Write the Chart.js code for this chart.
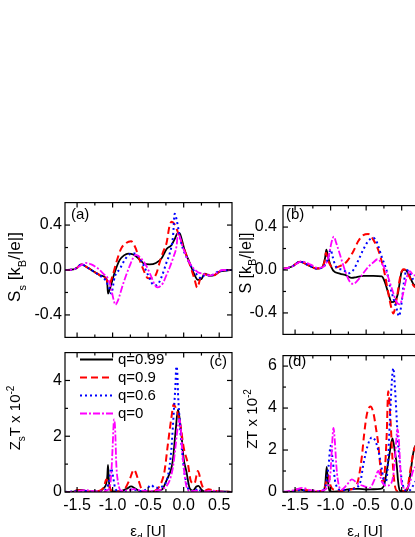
<!DOCTYPE html>
<html><head><meta charset="utf-8">
<script src="https://cdn.jsdelivr.net/npm/chart.js@4.4.0/dist/chart.umd.min.js"></script>
<style>
html,body{margin:0;padding:0;background:#fff;overflow:hidden;width:415px;height:537px;}
canvas{position:absolute;}
</style></head><body>
<canvas id="ca" width="240" height="160" style="left:0;top:190px"></canvas>
<canvas id="cb" width="224" height="160" style="left:236px;top:190px"></canvas>
<canvas id="cc" width="240" height="197" style="left:0;top:340px"></canvas>
<canvas id="cd" width="224" height="197" style="left:236px;top:340px"></canvas>
<script>
// ---------- axes / labels ----------
const X_MIN = -1.67, X_MAX = 0.68;
const xMajor = [-1.5, -1.0, -0.5, 0.0, 0.5];
const xMinor = [-1.25, -0.75, -0.25, 0.25];
const xTickLabels = ['-1.5', '-1.0', '-0.5', '0.0', '0.5'];
const sMajor = [-0.4, 0.0, 0.4];
const sMinor = [-0.2, 0.2];
const sTickLabels = ['-0.4', '0.0', '0.4'];
const zcMajor = [0, 2, 4];
const zcMinor = [1, 3];
const zdMajor = [0, 2, 4, 6];
const zdMinor = [1, 3, 5];
const seriesNames = ['q=0.99', 'q=0.9', 'q=0.6', 'q=0'];

// ---------- panel (a): S_s ----------
const a_q099_x = [-1.67,-1.55,-1.5,-1.44,-1.35,-1.25,-1.18,-1.09,-1.075,-1.065,-1.04,-0.97,-0.9,-0.84,-0.78,-0.71,-0.64,-0.57,-0.48,-0.39,-0.31,-0.24,-0.17,-0.13,-0.08,-0.056,-0.02,0.014,0.085,0.155,0.2,0.25,0.296,0.366,0.437,0.507,0.6,0.68];
const a_q099_y = [0,0.005,0.02,0.05,0.02,-0.02,-0.047,-0.075,-0.12,-0.21,-0.17,-0.02,0.09,0.13,0.146,0.138,0.105,0.063,0.05,0.063,0.105,0.187,0.223,0.27,0.33,0.326,0.256,0.174,0.063,-0.047,-0.088,-0.08,-0.033,-0.052,-0.044,-0.014,-0.005,0];
const a_q09_x = [-1.67,-1.55,-1.5,-1.44,-1.35,-1.25,-1.18,-1.09,-1.05,-1.0,-0.95,-0.88,-0.81,-0.74,-0.68,-0.62,-0.57,-0.5,-0.43,-0.385,-0.34,-0.29,-0.24,-0.2,-0.17,-0.13,-0.1,-0.033,0.038,0.108,0.155,0.19,0.25,0.32,0.41,0.507,0.6,0.68];
const a_q09_y = [0,0.005,0.02,0.05,0.02,-0.02,-0.045,-0.08,-0.13,-0.05,0.063,0.19,0.24,0.256,0.2,0.09,0.008,-0.074,-0.074,-0.033,0.063,0.16,0.242,0.39,0.43,0.41,0.366,0.256,0.132,0.008,-0.088,-0.157,-0.047,-0.04,-0.05,-0.014,0,0];
const a_q06_x = [-1.67,-1.55,-1.5,-1.44,-1.35,-1.25,-1.18,-1.1,-1.05,-1.02,-0.97,-0.9,-0.83,-0.76,-0.69,-0.62,-0.55,-0.48,-0.43,-0.38,-0.31,-0.244,-0.197,-0.15,-0.127,-0.1,-0.07,-0.03,0.06,0.13,0.2,0.25,0.3,0.37,0.5,0.68];
const a_q06_y = [0,0.005,0.02,0.05,0.02,-0.02,-0.05,-0.09,-0.16,-0.21,-0.06,0.008,0.09,0.14,0.146,0.105,0.022,-0.074,-0.13,-0.135,-0.06,0.063,0.146,0.3,0.5,0.45,0.35,0.229,0.09,0.008,-0.052,-0.075,-0.04,-0.05,-0.01,0];
const a_q0_x = [-1.67,-1.55,-1.45,-1.38,-1.3,-1.2,-1.12,-1.07,-1.03,-0.98,-0.96,-0.93,-0.855,-0.81,-0.76,-0.714,-0.67,-0.6,-0.525,-0.455,-0.41,-0.37,-0.29,-0.244,-0.197,-0.15,-0.1,-0.08,-0.01,0.06,0.13,0.2,0.27,0.37,0.45,0.55,0.68];
const a_q0_y = [0,0.005,0.04,0.063,0.05,0.01,-0.04,-0.07,-0.14,-0.28,-0.31,-0.28,-0.13,-0.047,0.036,0.105,0.135,0.105,0.036,-0.06,-0.13,-0.155,-0.115,-0.047,0.022,0.105,0.215,0.325,0.2,0.09,0.022,-0.02,-0.033,-0.05,-0.03,0,0];

// ---------- panel (b): S ----------
const b_q099_x = [-1.67,-1.55,-1.43,-1.3,-1.2,-1.127,-1.08,-1.06,-1.035,-1.01,-0.963,-0.87,-0.775,-0.704,-0.634,-0.54,-0.4,-0.28,-0.235,-0.19,-0.141,-0.094,-0.05,-0.024,0.0,0.046,0.093,0.164,0.2,0.3,0.68];
const b_q099_y = [0.01,0.03,0.077,0.04,0.014,0.02,0.105,0.19,0.12,0.063,-0.006,-0.033,-0.052,-0.074,-0.066,-0.055,-0.055,-0.06,-0.115,-0.212,-0.3,-0.29,-0.21,-0.1,-0.014,0.003,-0.033,-0.13,-0.15,-0.05,0];
const b_q09_x = [-1.67,-1.55,-1.43,-1.3,-1.2,-1.127,-1.085,-1.065,-1.04,-1.0,-0.963,-0.87,-0.775,-0.68,-0.61,-0.54,-0.47,-0.4,-0.33,-0.28,-0.235,-0.19,-0.141,-0.118,-0.07,-0.024,0.023,0.07,0.117,0.164,0.2,0.3,0.68];
const b_q09_y = [0.01,0.03,0.077,0.04,0.014,0.02,0.08,0.16,0.1,0.04,0.02,0.036,0.077,0.174,0.27,0.325,0.335,0.283,0.187,0.077,-0.047,-0.21,-0.364,-0.405,-0.267,-0.074,0.008,-0.01,-0.074,-0.143,-0.16,-0.05,0];
const b_q06_x = [-1.67,-1.55,-1.43,-1.3,-1.2,-1.1,-1.04,-1.0,-0.97,-0.93,-0.82,-0.75,-0.68,-0.61,-0.54,-0.47,-0.4,-0.35,-0.28,-0.21,-0.165,-0.118,-0.07,-0.038,0.0,0.03,0.07,0.117,0.164,0.2,0.3,0.68];
const b_q06_y = [0.01,0.03,0.077,0.04,0.014,0.03,0.1,0.19,0.12,0.036,0.0,-0.03,0.0,0.09,0.19,0.27,0.3,0.26,0.12,-0.01,-0.15,-0.26,-0.364,-0.43,-0.3,-0.12,0.0,-0.03,-0.09,-0.1,-0.04,0];
const b_q0_x = [-1.67,-1.55,-1.4,-1.28,-1.18,-1.1,-1.03,-0.99,-0.955,-0.92,-0.87,-0.8,-0.73,-0.68,-0.61,-0.54,-0.47,-0.4,-0.34,-0.28,-0.21,-0.14,-0.07,-0.024,0.023,0.07,0.117,0.164,0.2,0.3,0.68];
const b_q0_y = [0.01,0.03,0.08,0.05,0.02,0.03,0.12,0.25,0.31,0.25,0.146,0.0,-0.11,-0.13,-0.09,-0.03,0.03,0.07,0.1,0.06,-0.03,-0.17,-0.3,-0.32,-0.21,-0.07,-0.01,-0.05,-0.05,-0.02,0];

// ---------- panel (c): Z_s T x 10^-2 ----------
const c_q099_x = [-1.67,-1.55,-1.48,-1.42,-1.35,-1.2,-1.12,-1.09,-1.075,-1.065,-1.055,-1.04,-1.0,-0.9,-0.8,-0.74,-0.68,-0.6,-0.5,-0.4,-0.3,-0.244,-0.2,-0.173,-0.15,-0.113,-0.08,-0.055,-0.033,0.0,0.038,0.085,0.13,0.18,0.21,0.25,0.3,0.4,0.5,0.68];
const c_q099_y = [0,0.01,0.07,0.07,0.01,0.02,0.15,0.3,0.55,0.97,0.5,0.12,0.02,0.02,0.12,0.2,0.12,0.02,0.01,0.03,0.1,0.4,0.65,0.85,1.19,2.2,2.95,2.6,2.1,1.19,0.74,0.13,0.05,0.2,0.22,0.08,0.01,0.01,0.02,0];
const c_q09_x = [-1.67,-1.55,-1.5,-1.42,-1.3,-1.18,-1.12,-1.09,-1.06,-1.03,-1.0,-0.9,-0.83,-0.76,-0.70,-0.64,-0.58,-0.5,-0.4,-0.32,-0.27,-0.22,-0.173,-0.14,-0.11,-0.07,-0.04,0.0,0.06,0.1,0.15,0.2,0.25,0.3,0.35,0.42,0.5,0.68];
const c_q09_y = [0,0.02,0.07,0.05,0.01,0.05,0.2,0.45,0.35,0.1,0.02,0.03,0.1,0.45,0.8,0.45,0.05,0.01,0.05,0.3,0.74,1.76,2.66,3.15,3.0,2.7,2.3,1.6,1.0,0.4,0.3,0.75,0.3,0.05,0.1,0.05,0.02,0];
const c_q06_x = [-1.67,-1.5,-1.42,-1.3,-1.15,-1.08,-1.05,-1.02,-0.99,-0.96,-0.9,-0.8,-0.72,-0.62,-0.52,-0.46,-0.4,-0.3,-0.22,-0.173,-0.15,-0.117,-0.103,-0.09,-0.08,-0.056,-0.033,0.0,0.04,0.085,0.15,0.2,0.25,0.3,0.68];
const c_q06_y = [0,0.03,0.05,0.01,0.03,0.15,0.4,0.85,0.5,0.1,0.02,0.05,0.1,0.03,0.1,0.25,0.15,0.2,0.6,1.53,2.43,3.78,4.5,4.3,3.56,2.54,1.76,0.9,0.3,0.05,0.02,0.12,0.02,0,0];
const c_q0_x = [-1.67,-1.5,-1.4,-1.3,-1.15,-1.05,-1.02,-1.0,-0.98,-0.965,-0.948,-0.92,-0.88,-0.8,-0.7,-0.6,-0.5,-0.4,-0.3,-0.2,-0.15,-0.12,-0.09,-0.06,-0.04,-0.02,0.0,0.03,0.06,0.1,0.2,0.3,0.4,0.5,0.68];
const c_q0_y = [0,0.02,0.07,0.04,0.02,0.1,0.6,1.6,2.6,2.3,1.0,0.3,0.05,0.05,0.1,0.05,0.03,0.05,0.1,0.4,0.9,1.5,2.2,2.6,2.3,1.5,0.9,0.3,0.08,0.03,0.05,0.02,0.05,0.02,0];

// ---------- panel (d): ZT x 10^-2 ----------
const d_q099_x = [-1.67,-1.55,-1.45,-1.35,-1.2,-1.1,-1.075,-1.055,-1.04,-1.02,-1.0,-0.9,-0.8,-0.7,-0.6,-0.5,-0.4,-0.3,-0.25,-0.21,-0.175,-0.13,-0.094,-0.07,-0.05,-0.03,0.0,0.04,0.08,0.12,0.16,0.19,0.22,0.26,0.3,0.68];
const d_q099_y = [0,0.02,0.13,0.05,0.01,0.05,0.4,1.2,0.6,0.1,0.02,0.03,0.1,0.15,0.15,0.12,0.13,0.15,0.3,1.0,1.74,2.55,1.88,1.3,0.5,0.1,0.02,0.02,0.1,0.8,1.8,2.2,1.8,0.5,0.1,0];
const d_q09_x = [-1.67,-1.55,-1.45,-1.35,-1.2,-1.1,-1.06,-1.03,-1.0,-0.95,-0.85,-0.75,-0.66,-0.61,-0.56,-0.53,-0.49,-0.44,-0.40,-0.36,-0.33,-0.30,-0.27,-0.24,-0.21,-0.19,-0.16,-0.13,-0.1,-0.06,-0.02,0.03,0.08,0.12,0.16,0.2,0.25,0.68];
const d_q09_y = [0,0.02,0.12,0.1,0.02,0.1,0.5,0.8,0.3,0.1,0.05,0.1,0.2,0.6,1.7,2.7,3.7,4.07,3.8,3.0,2.3,1.2,0.5,0.9,2.8,4.8,3.6,1.6,0.4,0.05,0.05,0.05,0.2,1.0,1.8,2.2,1.5,0];
const d_q06_x = [-1.67,-1.5,-1.42,-1.3,-1.15,-1.07,-1.03,-1.0,-0.97,-0.93,-0.85,-0.75,-0.65,-0.58,-0.54,-0.48,-0.42,-0.38,-0.33,-0.28,-0.24,-0.2,-0.165,-0.14,-0.118,-0.094,-0.07,-0.05,-0.024,0.0,0.03,0.08,0.12,0.16,0.2,0.68];
const d_q06_y = [0,0.05,0.1,0.03,0.05,0.3,1.2,2.2,1.5,0.4,0.1,0.1,0.2,0.5,1.3,2.2,2.6,2.5,2.0,1.1,0.4,1.0,3.5,5.2,5.9,4.95,3.5,2.3,1.3,0.6,0.2,0.05,0.1,0.3,0.5,0];
const d_q0_x = [-1.67,-1.5,-1.4,-1.3,-1.15,-1.05,-1.0,-0.985,-0.96,-0.94,-0.92,-0.9,-0.85,-0.78,-0.7,-0.62,-0.55,-0.45,-0.38,-0.33,-0.28,-0.22,-0.15,-0.1,-0.08,-0.06,-0.04,-0.02,0.0,0.04,0.08,0.12,0.16,0.2,0.68];
const d_q0_y = [0,0.1,0.2,0.1,0.05,0.2,1.0,1.9,3.05,2.4,1.3,0.6,0.1,0.3,0.6,0.4,0.3,0.2,0.6,1.0,0.5,0.3,0.4,1.3,2.3,3.0,2.5,1.2,0.4,0.2,0.2,0.5,1.0,1.2,0];

// ---------- styles ----------
const FONT = "'Liberation Sans', Arial, Helvetica, sans-serif";
const styles = [
  { color: '#000000', dash: [], width: 1.8 },
  { color: '#ff0000', dash: [7, 4], width: 2 },
  { color: '#0000ff', dash: [2, 3], width: 2 },
  { color: '#ff00ff', dash: [7, 2, 2, 2], width: 1.8 }
];

function makeDatasets(xsList, ysList) {
  return xsList.map((xs, i) => ({
    label: seriesNames[i],
    data: xs.map((x, j) => ({ x: x, y: ysList[i][j] })),
    borderColor: styles[i].color,
    borderDash: styles[i].dash,
    borderWidth: styles[i].width,
    pointRadius: 0,
    fill: false,
    cubicInterpolationMode: 'monotone',
    order: 4 - i
  }));
}

function drawRich(ctx, parts, cx, cy, size, rot) {
  ctx.save();
  ctx.translate(cx, cy);
  if (rot) ctx.rotate(-Math.PI / 2);
  ctx.textBaseline = 'alphabetic';
  ctx.textAlign = 'left';
  const fontOf = p => ((p.sub || p.sup) ? Math.round(size * 0.66) : size) + 'px ' + FONT;
  let w = 0;
  parts.forEach(p => { ctx.font = fontOf(p); w += ctx.measureText(p.t).width; });
  let x = -w / 2;
  const base = size * 0.36;
  parts.forEach(p => {
    ctx.font = fontOf(p);
    const dy = p.sub ? size * 0.32 : (p.sup ? -size * 0.42 : 0);
    ctx.fillText(p.t, x, base + dy);
    x += ctx.measureText(p.t).width;
  });
  ctx.restore();
}

function panelPlugin(cfg) {
  return {
    id: 'panel',
    afterDatasetsDraw(chart) {
      const ctx = chart.ctx, a = chart.chartArea;
      const xs = chart.scales.x, ys = chart.scales.y;
      ctx.save();
      ctx.setLineDash([]);
      ctx.strokeStyle = '#000';
      ctx.lineWidth = 1.2;
      ctx.strokeRect(a.left, a.top, a.right - a.left, a.bottom - a.top);
      const seg = (x1, y1, x2, y2) => { ctx.beginPath(); ctx.moveTo(x1, y1); ctx.lineTo(x2, y2); ctx.stroke(); };
      const xt = (vals, len) => vals.forEach(v => { const p = xs.getPixelForValue(v); seg(p, a.bottom, p, a.bottom - len); seg(p, a.top, p, a.top + len); });
      const yt = (vals, len) => vals.forEach(v => { const p = ys.getPixelForValue(v); seg(a.left, p, a.left + len, p); seg(a.right, p, a.right - len, p); });
      xt(xMajor, 5); xt(xMinor, 3);
      yt(cfg.yMajor, 5); yt(cfg.yMinor, 3);
      ctx.fillStyle = '#000';
      drawRich(ctx, cfg.yTitle, cfg.yTitlePos[0], cfg.yTitlePos[1], cfg.yTitleSize, true);
      ctx.font = '15px ' + FONT;
      ctx.textBaseline = 'middle';
      ctx.textAlign = cfg.tagAlign;
      ctx.fillText(cfg.tag, cfg.tagPos[0], cfg.tagPos[1]);
      if (cfg.xTitle) drawRich(ctx, cfg.xTitle, cfg.xTitlePos[0], cfg.xTitlePos[1], 15, false);
      if (cfg.legend) {
        const L = cfg.legend;
        seriesNames.forEach((n, i) => {
          const yy = L.y + i * L.dy;
          ctx.strokeStyle = styles[i].color;
          ctx.lineWidth = styles[i].width;
          ctx.setLineDash(styles[i].dash);
          seg(L.x1, yy, L.x2, yy);
          ctx.setLineDash([]);
          ctx.fillStyle = '#000';
          ctx.font = '15px ' + FONT;
          ctx.textAlign = 'left';
          ctx.textBaseline = 'middle';
          ctx.fillText(n, L.tx, yy);
        });
      }
      ctx.restore();
    }
  };
}

function makeChart(id, datasets, cfg) {
  return new Chart(document.getElementById(id), {
    type: 'line',
    data: { datasets: datasets },
    options: {
      responsive: false, animation: false, devicePixelRatio: 1,
      layout: { padding: cfg.padding },
      plugins: { legend: { display: false }, tooltip: { enabled: false } },
      scales: {
        x: {
          type: 'linear', min: X_MIN, max: X_MAX, display: cfg.showX,
          grid: { display: false, drawTicks: false }, border: { display: false },
          afterBuildTicks: s => { s.ticks = xMajor.map(v => ({ value: v })); },
          afterFit: s => { s.height = cfg.xHeight; },
          ticks: {
            color: '#000', font: { family: FONT, size: 16 }, padding: cfg.xPad, maxRotation: 0,
            callback: v => xTickLabels[xMajor.findIndex(m => Math.abs(m - v) < 1e-6)]
          }
        },
        y: {
          type: 'linear', min: cfg.yMin, max: cfg.yMax,
          grid: { display: false, drawTicks: false }, border: { display: false },
          afterBuildTicks: s => { s.ticks = cfg.yMajor.map(v => ({ value: v })); },
          afterFit: s => { s.width = cfg.yWidth; },
          ticks: {
            color: '#000', font: { family: FONT, size: 16 }, padding: cfg.yPad,
            callback: v => cfg.yLabels[cfg.yMajor.findIndex(m => Math.abs(m - v) < 1e-6)]
          }
        }
      }
    },
    plugins: [panelPlugin(cfg)]
  });
}

const titleSs = [{ t: 'S' }, { t: 's', sub: 1 }, { t: ' [k' }, { t: 'B', sub: 1 }, { t: '/|e|]' }];
const titleS = [{ t: 'S [k' }, { t: 'B', sub: 1 }, { t: '/|e|]' }];
const titleZs = [{ t: 'Z' }, { t: 's', sub: 1 }, { t: 'T x 10' }, { t: '-2', sup: 1 }];
const titleZ = [{ t: 'ZT x 10' }, { t: '-2', sup: 1 }];
const titleX = [{ t: 'ε' }, { t: 'd', sub: 1 }, { t: ' [U]' }];

makeChart('ca', makeDatasets([a_q099_x, a_q09_x, a_q06_x, a_q0_x], [a_q099_y, a_q09_y, a_q06_y, a_q0_y]), {
  padding: { left: 0, right: 8, top: 9, bottom: 6 }, showX: false, xHeight: 0, xPad: 4,
  yMin: -0.6, yMax: 0.6, yMajor: sMajor, yMinor: sMinor, yLabels: sTickLabels, yWidth: 65, yPad: 3,
  yTitle: titleSs, yTitleSize: 17, yTitlePos: [14, 77], tag: '(a)', tagAlign: 'left', tagPos: [71, 25]
});
makeChart('cb', makeDatasets([b_q099_x, b_q09_x, b_q06_x, b_q0_x], [b_q099_y, b_q09_y, b_q06_y, b_q0_y]), {
  padding: { left: 0, right: 10, top: 9, bottom: 6 }, showX: false, xHeight: 0, xPad: 4,
  yMin: -0.6, yMax: 0.6, yMajor: sMajor, yMinor: sMinor, yLabels: sTickLabels, yWidth: 47, yPad: 6,
  yTitle: titleS, yTitleSize: 16, yTitlePos: [9, 73], tag: '(b)', tagAlign: 'left', tagPos: [50, 25]
});
makeChart('cc', makeDatasets([c_q099_x, c_q09_x, c_q06_x, c_q0_x], [c_q099_y, c_q09_y, c_q06_y, c_q0_y]), {
  padding: { left: 0, right: 8, top: 4, bottom: 0 }, showX: true, xHeight: 45, xPad: 4,
  yMin: 0, yMax: 5, yMajor: zcMajor, yMinor: zcMinor, yLabels: ['0', '2', '4'], yWidth: 65, yPad: 3,
  yTitle: titleZs, yTitleSize: 15, yTitlePos: [15, 78], tag: '(c)', tagAlign: 'right', tagPos: [227, 22],
  xTitle: titleX, xTitlePos: [148, 191],
  legend: { x1: 80, x2: 113, tx: 118, y: 19.5, dy: 18 }
});
makeChart('cd', makeDatasets([d_q099_x, d_q09_x, d_q06_x, d_q0_x], [d_q099_y, d_q09_y, d_q06_y, d_q0_y]), {
  padding: { left: 0, right: 10, top: 4, bottom: 0 }, showX: true, xHeight: 45, xPad: 4,
  yMin: 0, yMax: 6.5, yMajor: zdMajor, yMinor: zdMinor, yLabels: ['0', '2', '4', '6'], yWidth: 47, yPad: 6,
  yTitle: titleZ, yTitleSize: 15, yTitlePos: [16, 79], tag: '(d)', tagAlign: 'left', tagPos: [52, 22],
  xTitle: titleX, xTitlePos: [129, 191]
});
</script>
</body></html>
